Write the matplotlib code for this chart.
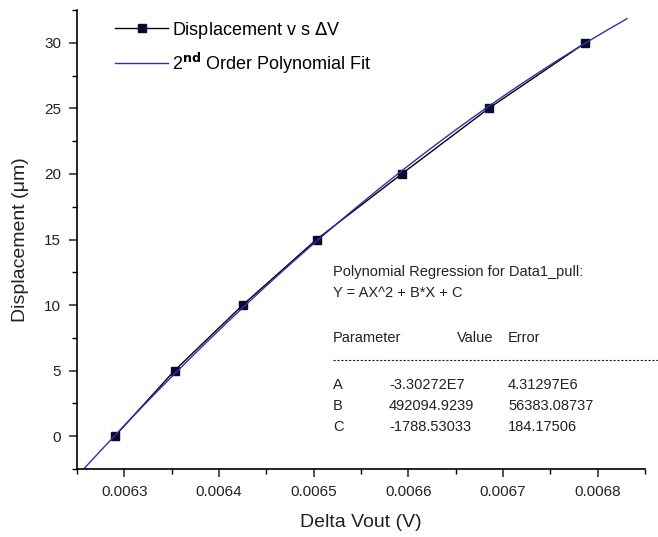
import matplotlib
matplotlib.use("Agg")
import matplotlib.pyplot as plt
import numpy as np
from matplotlib.lines import Line2D
from matplotlib.ticker import MultipleLocator

plt.rcParams['font.family'] = ['Liberation Sans', 'DejaVu Sans']

# Data
delta_v = [0.006290, 0.006353, 0.006425, 0.006503, 0.006593, 0.006685, 0.006787]
displacement = [0, 5, 10, 15, 20, 25, 30]

# Fit coefficients (as reported)
coef_A = -3.30272e7
coef_B = 492094.9239
coef_C = -1788.53033
fit_range = [0.006257, 0.006831]

param_names = ["A", "B", "C"]
param_values = ["-3.30272E7", "492094.9239", "-1788.53033"]
param_errors = ["4.31297E6", "56383.08737", "184.17506"]

W, H = 658, 537
fig = plt.figure(figsize=(W / 100, H / 100), dpi=100)
ax = fig.add_axes([77 / W, 1 - 469 / H, (645 - 77) / W, (469 - 10) / H])

xf = np.linspace(fit_range[0], fit_range[1], 300)
yf = coef_A * xf ** 2 + coef_B * xf + coef_C

ax.plot(delta_v, displacement, color='black', lw=1.0, marker='s', ms=5.5,
        mfc='#0a0a2a', mec='#0a0a2a', label=r"Displacement v s $\Delta$V")
ax.plot(xf, yf, color='#3030b0', lw=1.0, label=r"2$^{\mathbf{nd}}$ Order Polynomial Fit")

ax.set_xlim(0.00625, 0.00685)
ax.set_ylim(-2.5, 32.5)
ax.xaxis.set_major_locator(MultipleLocator(0.0001))
ax.xaxis.set_minor_locator(MultipleLocator(0.00005))
ax.yaxis.set_major_locator(MultipleLocator(5))
ax.yaxis.set_minor_locator(MultipleLocator(2.5))
ax.set_xticks([0.0063, 0.0064, 0.0065, 0.0066, 0.0067, 0.0068])
ax.set_xticklabels(["0.0063", "0.0064", "0.0065", "0.0066", "0.0067", "0.0068"])

for s in ['top', 'right']:
    ax.spines[s].set_visible(False)
for s in ['left', 'bottom']:
    ax.spines[s].set_linewidth(1.2)
ax.tick_params(which='major', direction='out', length=5.5, width=1.1, labelsize=11, pad=6, colors='#222222')
ax.tick_params(which='minor', direction='out', length=3.5, width=1.0)

ax.set_xlabel("Delta Vout (V)", fontsize=14, labelpad=11, color='#222222')
ax.set_ylabel("Displacement (\u03bcm)", fontsize=14, labelpad=11, color='#222222')

leg = ax.legend(loc='upper left', bbox_to_anchor=(0.055, 0.995), frameon=False,
                fontsize=13, handlelength=2.9, handletextpad=0.25,
                labelspacing=0.55, numpoints=1, borderaxespad=0)

# Regression text block
def ftext(x, y, s, **kw):
    fig.text(x / W, 1 - y / H, s, fontsize=10.5, va='center', ha='left',
             color='#222222', **kw)

ftext(333, 272, "Polynomial Regression for Data1_pull:")
ftext(333, 293, "Y = AX^2 + B*X + C")
ftext(333, 338, "Parameter")
ftext(457, 338, "Value")
ftext(508, 338, "Error")
fig.add_artist(Line2D([333 / W, 1.0], [1 - 360 / H, 1 - 360 / H], color='#222222',
                      lw=0.8, ls=(0, (2, 1.5)), transform=fig.transFigure))
rows_y = [385, 406, 427]
for name, val, err, yy in zip(param_names, param_values, param_errors, rows_y):
    ftext(333, yy, name)
    ftext(389, yy, val)
    ftext(508, yy, err)

fig.savefig("out.png", dpi=100)
